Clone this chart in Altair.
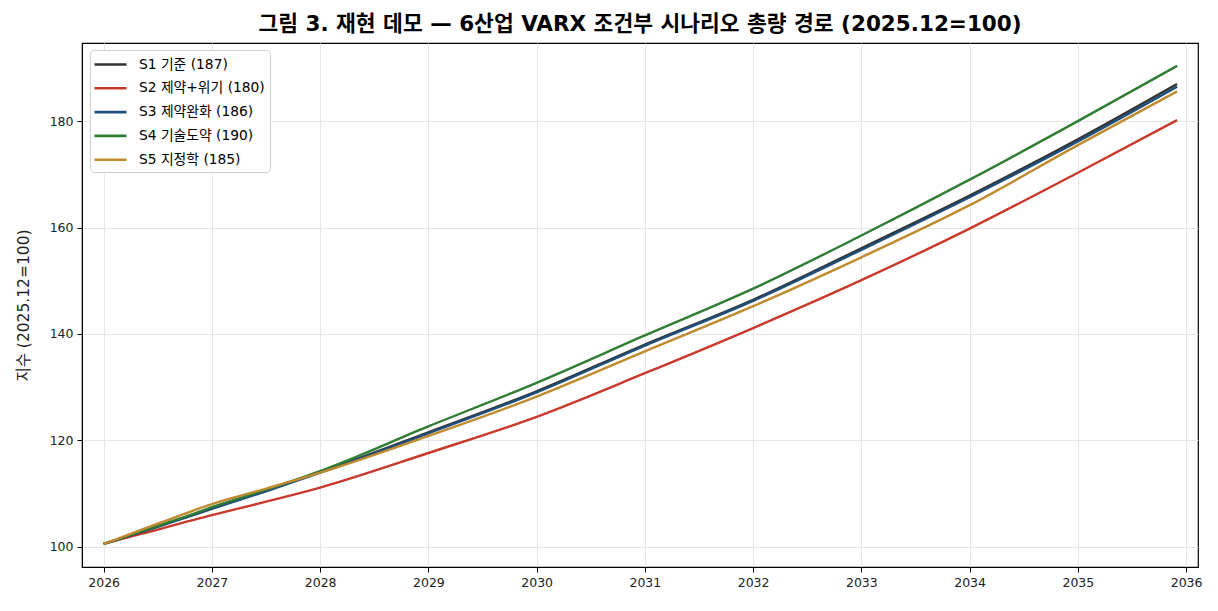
import altair as alt
import pandas as pd

years = [2026.0, 2026.25, 2026.5, 2026.75, 2027, 2027.5, 2028, 2029, 2030, 2031, 2032, 2033, 2034, 2035, 2035.917]

s1 = [100.5, 102.1, 103.8, 105.5, 107.3, 110.6, 114.0, 121.5, 129.2, 138.0, 146.4, 156.1, 166.0, 176.6, 187.0]
s2 = [100.5, 101.9, 103.2, 104.6, 105.9, 108.45, 111.1, 117.6, 124.4, 132.6, 141.1, 150.1, 159.8, 170.3, 180.2]
s3 = [100.5, 102.1, 103.7, 105.4, 107.1, 110.4, 113.9, 121.3, 129.0, 137.8, 146.2, 155.8, 165.7, 176.2, 186.5]
s4 = [100.5, 102.2, 103.9, 105.6, 107.4, 110.7, 114.2, 122.6, 130.8, 139.7, 148.5, 158.5, 169.0, 180.0, 190.4]
s5 = [100.5, 102.4, 104.3, 106.2, 108.0, 110.9, 113.9, 120.8, 128.2, 136.7, 145.2, 154.4, 164.2, 175.5, 185.6]

names = ["S1 기준 (187)", "S2 제약+위기 (180)", "S3 제약완화 (186)", "S4 기술도약 (190)", "S5 지정학 (185)"]
colors = ["#333333", "#c8392b", "#1f4e7a", "#2e7d32", "#c08a2e"]
series = [s1, s2, s3, s4, s5]

rows = []
for i, (n, vals) in enumerate(zip(names, series)):
    for x, v in zip(years, vals):
        rows.append({"year": x, "value": v, "scenario": n, "ord": i})
df = pd.DataFrame(rows)

LFONT = "DejaVu Sans, Noto Sans CJK KR"

chart = alt.Chart(df).mark_line(strokeWidth=2.4, interpolate="monotone").encode(
    x=alt.X("year:Q",
            scale=alt.Scale(domain=[2025.8, 2036.11], nice=False, zero=False),
            axis=alt.Axis(values=list(range(2026, 2037)), format="d", title=None)),
    y=alt.Y("value:Q",
            scale=alt.Scale(domain=[96.16, 194.7], nice=False, zero=False),
            axis=alt.Axis(values=[100, 120, 140, 160, 180], title="지수 (2025.12=100)",
                          titlePadding=18)),
    color=alt.Color("scenario:N",
                    scale=alt.Scale(domain=names, range=colors),
                    legend=alt.Legend(title=None, orient="none", legendX=8, legendY=7,
                                      symbolType="M-2,0H2", symbolSize=256,
                                      symbolStrokeWidth=2.6, symbolOffset=6,
                                      labelFont=LFONT, labelFontSize=13.8,
                                      labelOffset=19,
                                      rowPadding=6.8, padding=5,
                                      strokeColor="#d0d0d0", fillColor="white",
                                      cornerRadius=4, labelLimit=300)),
    order=alt.Order("ord:Q"),
).properties(
    width=1116, height=524,
    title=alt.TitleParams("그림 3. 재현 데모 — 6산업 VARX 조건부 시나리오 총량 경로 (2025.12=100)",
                          font=LFONT, fontSize=21.5, fontWeight="bold", anchor="middle",
                          offset=8, color="black"),
    autosize=alt.AutoSizeParams(type="none"),
    padding={"left": 82, "top": 43, "right": 20, "bottom": 44},
).configure_view(
    stroke="black", strokeWidth=1.2
).configure_axis(
    labelFont=LFONT, titleFont=LFONT, labelFontSize=12.5, titleFontSize=15.5,
    titleFontWeight="normal", labelColor="#222", titleColor="#222",
    domainColor="black", tickColor="black", tickSize=5,
    gridColor="#e6e6e6", gridWidth=1, labelPadding=4,
)

chart.save("out.html", embed_options={"renderer": "svg", "actions": False})
